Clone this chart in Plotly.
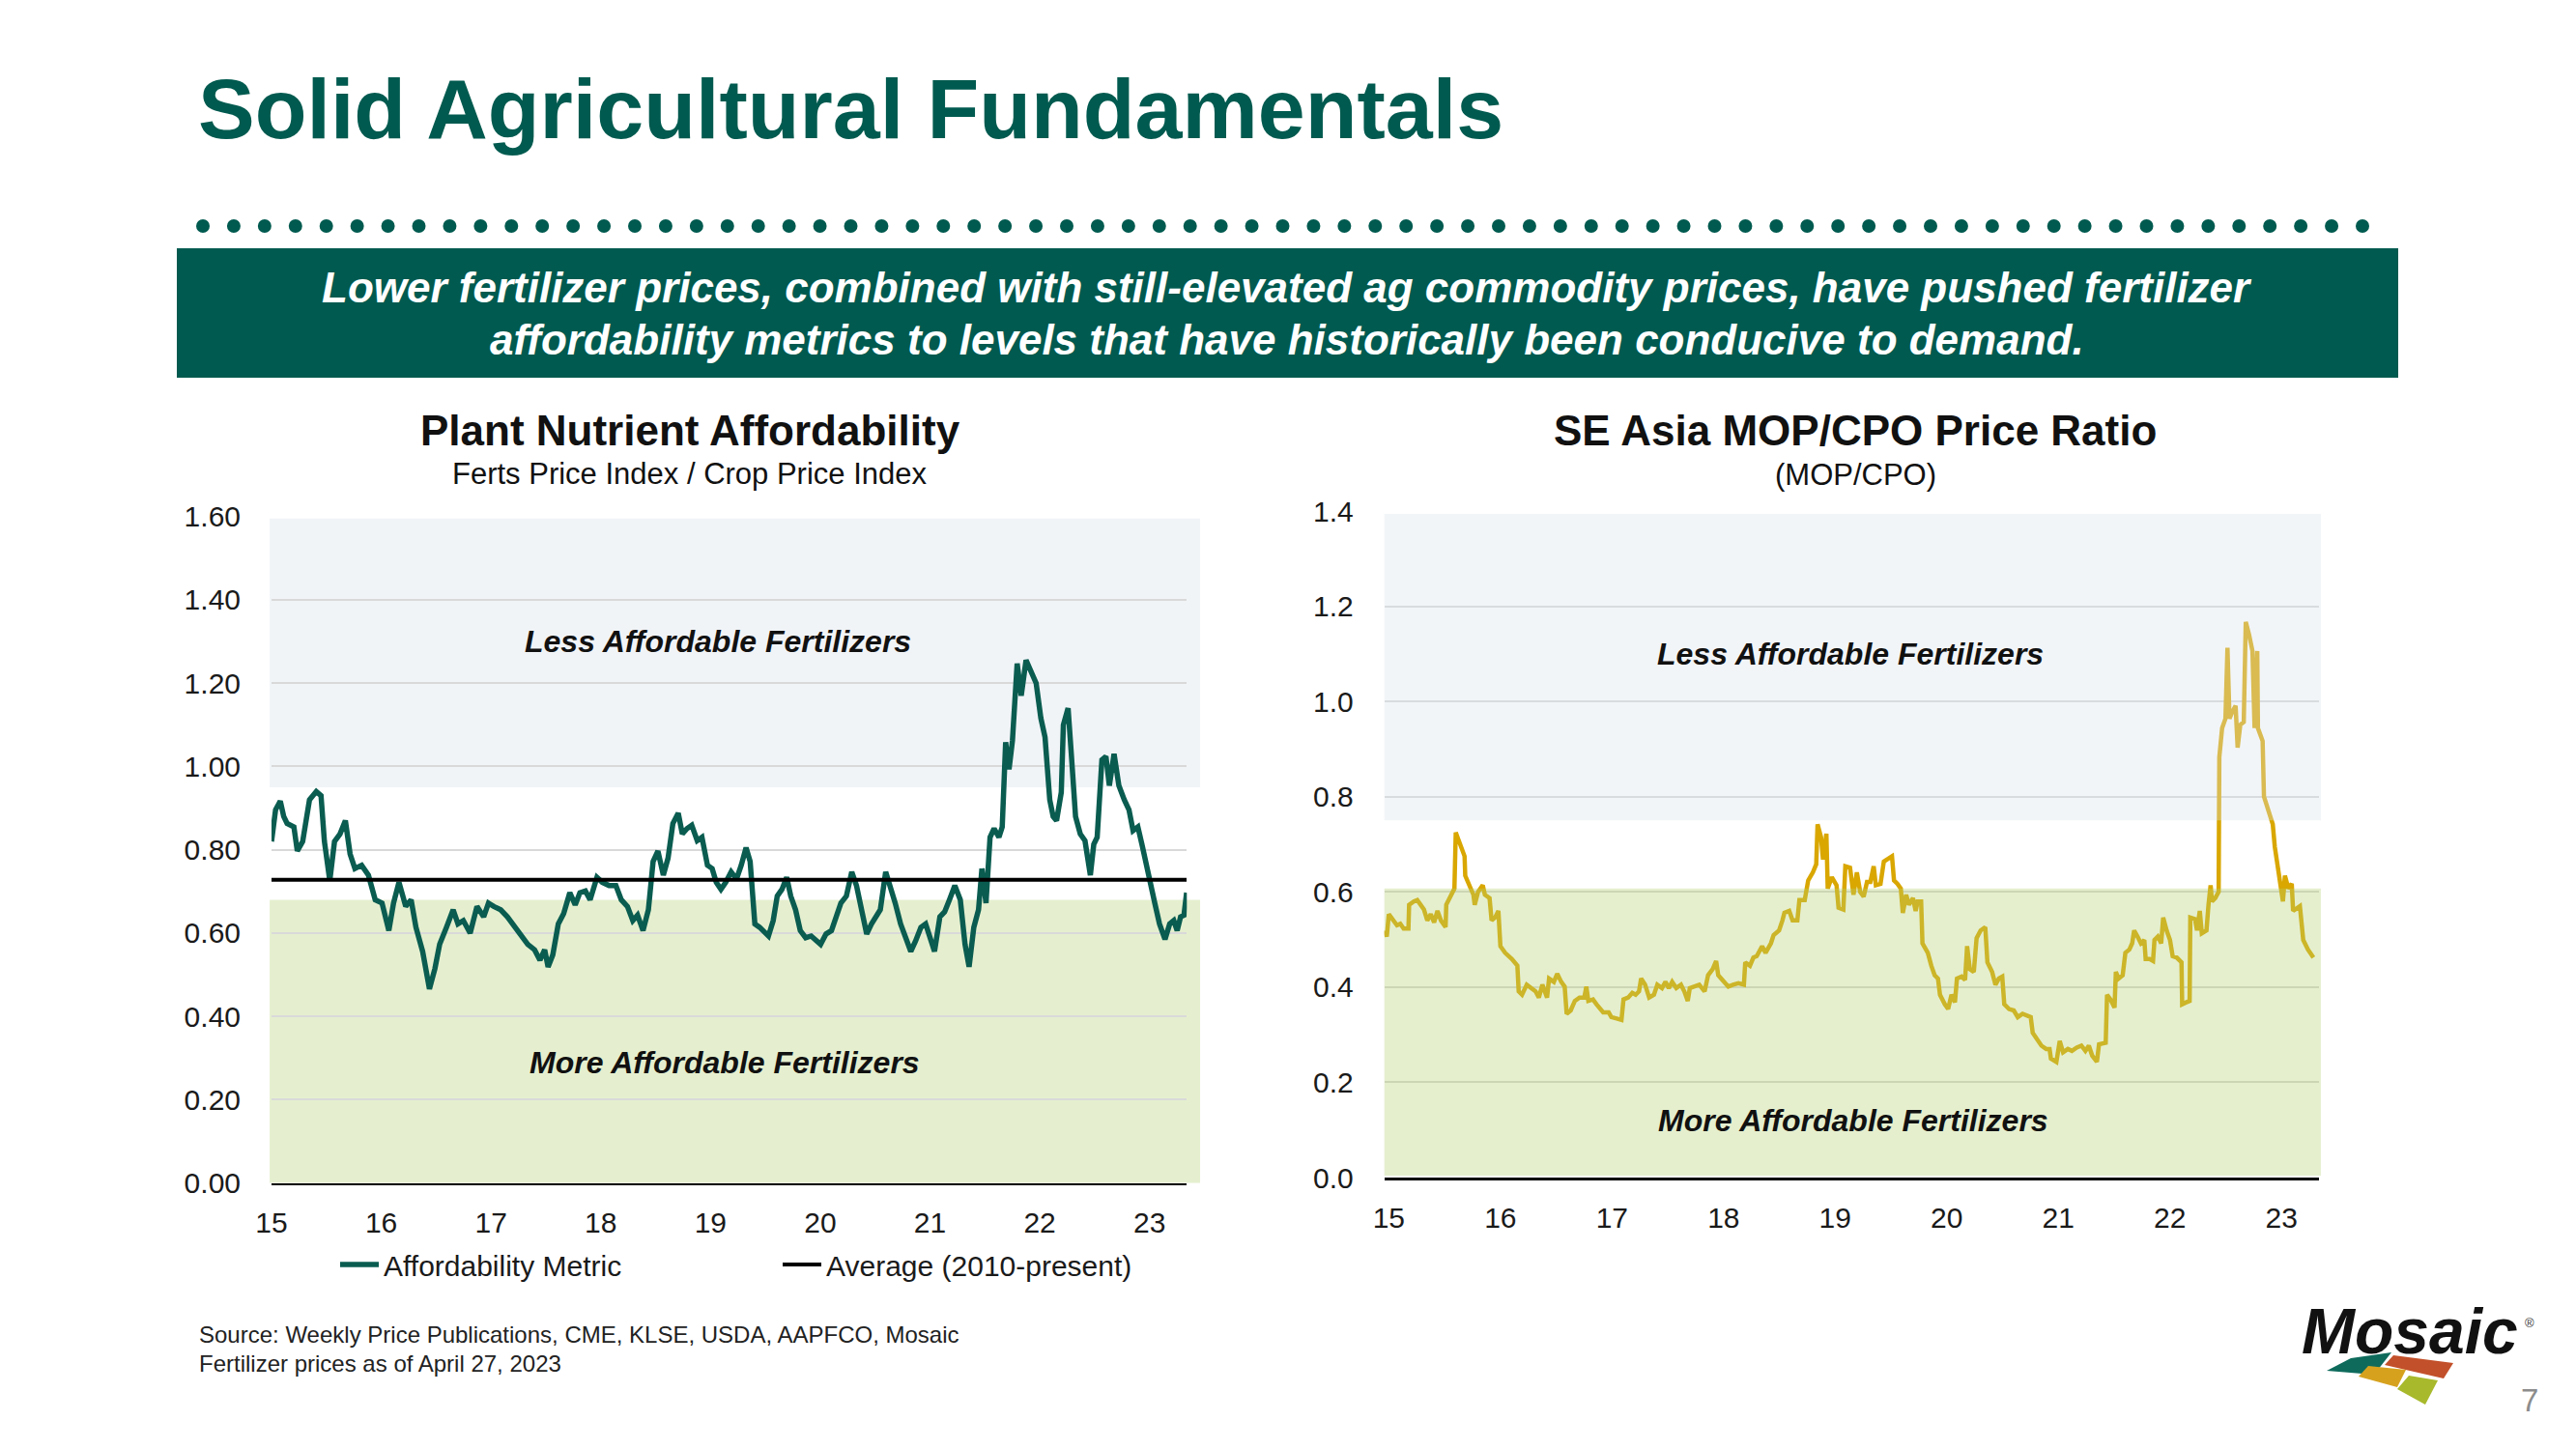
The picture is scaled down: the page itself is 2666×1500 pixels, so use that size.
import plotly.graph_objects as go

W, H = 2666, 1500
OFFSET = 8  # page body margin compensation
FONT = "Liberation Sans, Arial, sans-serif"
DARK_GREEN = "#005A4F"

# ---------------- data ----------------
# Plant Nutrient Affordability (Ferts Price Index / Crop Price Index), decimal 2-digit years
left_years = [
    15.000, 15.037, 15.080, 15.111, 15.142, 15.204, 15.235, 15.284, 15.346, 15.408,
    15.451, 15.482, 15.531, 15.574, 15.624, 15.673, 15.716, 15.760, 15.821, 15.883,
    15.945, 16.007, 16.069, 16.112, 16.161, 16.223, 16.272, 16.316, 16.377, 16.439,
    16.489, 16.532, 16.594, 16.655, 16.699, 16.748, 16.810, 16.872, 16.933, 16.977,
    17.026, 17.088, 17.149, 17.211, 17.273, 17.335, 17.397, 17.446, 17.489, 17.520,
    17.563, 17.613, 17.662, 17.718, 17.767, 17.810, 17.860, 17.903, 17.965, 18.014,
    18.076, 18.138, 18.187, 18.243, 18.292, 18.335, 18.385, 18.434, 18.477, 18.521,
    18.570, 18.613, 18.657, 18.706, 18.743, 18.786, 18.829, 18.879, 18.922, 18.972,
    19.015, 19.052, 19.095, 19.139, 19.188, 19.237, 19.280, 19.324, 19.361, 19.404,
    19.447, 19.484, 19.528, 19.571, 19.608, 19.651, 19.694, 19.731, 19.775, 19.818,
    19.867, 19.917, 19.960, 20.003, 20.053, 20.102, 20.145, 20.188, 20.238, 20.287,
    20.330, 20.374, 20.423, 20.466, 20.510, 20.547, 20.596, 20.639, 20.683, 20.732,
    20.781, 20.825, 20.868, 20.917, 20.960, 21.004, 21.041, 21.090, 21.133, 21.177,
    21.226, 21.276, 21.319, 21.356, 21.399, 21.442, 21.473, 21.510, 21.547, 21.584,
    21.628, 21.658, 21.689, 21.720, 21.751, 21.794, 21.831, 21.875, 21.918, 21.967,
    22.010, 22.048, 22.091, 22.122, 22.153, 22.196, 22.215, 22.258, 22.289, 22.326,
    22.369, 22.412, 22.461, 22.492, 22.523, 22.566, 22.603, 22.634, 22.677, 22.721,
    22.770, 22.813, 22.850, 22.894, 22.931, 22.968, 23.005, 23.048, 23.091, 23.141,
    23.184, 23.221, 23.252, 23.283, 23.314, 23.338,
]
left_values = [
    0.82, 0.896, 0.917, 0.88, 0.863, 0.855, 0.797, 0.82, 0.92, 0.94,
    0.93, 0.82, 0.726, 0.82, 0.838, 0.87, 0.79, 0.755, 0.763, 0.739,
    0.68, 0.672, 0.606, 0.672, 0.722, 0.664, 0.68, 0.614, 0.556, 0.466,
    0.515, 0.573, 0.614, 0.656, 0.622, 0.63, 0.60, 0.664, 0.639, 0.672,
    0.664, 0.656, 0.639, 0.618, 0.598, 0.573, 0.56, 0.535, 0.56, 0.519,
    0.548, 0.622, 0.647, 0.697, 0.668, 0.697, 0.701, 0.68, 0.734, 0.722,
    0.714, 0.714, 0.68, 0.664, 0.63, 0.643, 0.606, 0.656, 0.772, 0.797,
    0.739, 0.78, 0.863, 0.888, 0.838, 0.851, 0.859, 0.822, 0.83, 0.763,
    0.755, 0.722, 0.705, 0.722, 0.747, 0.73, 0.763, 0.805, 0.772, 0.622,
    0.614, 0.606, 0.593, 0.63, 0.689, 0.705, 0.734, 0.689, 0.656, 0.606,
    0.589, 0.593, 0.581, 0.573, 0.598, 0.606, 0.639, 0.672, 0.689, 0.747,
    0.714, 0.656, 0.598, 0.622, 0.639, 0.656, 0.747, 0.714, 0.672, 0.622,
    0.589, 0.556, 0.581, 0.614, 0.622, 0.589, 0.556, 0.639, 0.651, 0.68,
    0.714, 0.68, 0.573, 0.519, 0.614, 0.656, 0.755, 0.672, 0.83, 0.851,
    0.83, 0.855, 1.058, 0.993, 1.062, 1.247, 1.17, 1.255, 1.232, 1.20,
    1.116, 1.07, 0.92, 0.88, 0.87, 0.938, 1.10, 1.14, 1.024, 0.88,
    0.838, 0.822, 0.739, 0.813, 0.83, 1.016, 1.024, 0.954, 1.03, 0.954,
    0.92, 0.896, 0.846, 0.855, 0.813, 0.772, 0.722, 0.672, 0.622, 0.585,
    0.622, 0.63, 0.606, 0.639, 0.643, 0.697,
]
avg_2010_present = 0.728

# SE Asia MOP/CPO price ratio
right_years = [
    14.964, 14.982, 15.000, 15.042, 15.073, 15.103, 15.133, 15.176, 15.182, 15.224,
    15.255, 15.285, 15.315, 15.345, 15.376, 15.406, 15.436, 15.467, 15.509, 15.515,
    15.558, 15.588, 15.600, 15.636, 15.679, 15.685, 15.721, 15.758, 15.770, 15.800,
    15.842, 15.861, 15.903, 15.921, 15.952, 15.982, 16.000, 16.042, 16.103, 16.133,
    16.152, 16.164, 16.194, 16.236, 16.273, 16.315, 16.345, 16.376, 16.418, 16.436,
    16.479, 16.509, 16.545, 16.576, 16.594, 16.630, 16.667, 16.709, 16.752, 16.770,
    16.788, 16.830, 16.861, 16.891, 16.921, 16.970, 16.994, 17.042, 17.085, 17.103,
    17.145, 17.182, 17.212, 17.242, 17.261, 17.297, 17.333, 17.376, 17.406, 17.448,
    17.479, 17.509, 17.539, 17.576, 17.618, 17.648, 17.679, 17.697, 17.739, 17.782,
    17.830, 17.861, 17.903, 17.933, 17.952, 18.000, 18.042, 18.085, 18.133, 18.182,
    18.194, 18.236, 18.267, 18.297, 18.315, 18.345, 18.376, 18.424, 18.448, 18.497,
    18.527, 18.545, 18.588, 18.618, 18.661, 18.679, 18.727, 18.758, 18.800, 18.830,
    18.842, 18.873, 18.891, 18.921, 18.933, 18.970, 19.012, 19.030, 19.073, 19.091,
    19.133, 19.164, 19.194, 19.224, 19.255, 19.285, 19.315, 19.345, 19.364, 19.406,
    19.436, 19.467, 19.509, 19.527, 19.558, 19.588, 19.606, 19.636, 19.661, 19.697,
    19.721, 19.739, 19.770, 19.782, 19.830, 19.861, 19.891, 19.921, 19.939, 19.982,
    20.012, 20.042, 20.073, 20.091, 20.133, 20.164, 20.182, 20.206, 20.242, 20.267,
    20.303, 20.345, 20.364, 20.406, 20.436, 20.467, 20.497, 20.515, 20.558, 20.600,
    20.636, 20.679, 20.709, 20.752, 20.770, 20.812, 20.848, 20.891, 20.921, 20.933,
    20.982, 21.012, 21.042, 21.085, 21.121, 21.164, 21.206, 21.242, 21.273, 21.303,
    21.345, 21.364, 21.406, 21.424, 21.436, 21.467, 21.503, 21.515, 21.539, 21.576,
    21.600, 21.636, 21.661, 21.679, 21.709, 21.739, 21.770, 21.782, 21.818, 21.848,
    21.861, 21.891, 21.921, 21.939, 21.970, 22.000, 22.024, 22.061, 22.103, 22.109,
    22.145, 22.176, 22.182, 22.224, 22.242, 22.267, 22.285, 22.327, 22.345, 22.364,
    22.376, 22.406, 22.436, 22.442, 22.467, 22.497, 22.515, 22.533, 22.558, 22.588,
    22.606, 22.630, 22.661, 22.679, 22.709, 22.739, 22.758, 22.782, 22.788, 22.830,
    22.842, 22.921, 22.939, 22.982, 23.012, 23.030, 23.061, 23.091, 23.103, 23.145,
    23.164, 23.194, 23.236, 23.285,
]
right_values = [
    0.519, 0.506, 0.553, 0.54, 0.53, 0.533, 0.523, 0.523, 0.573, 0.58,
    0.583, 0.573, 0.563, 0.54, 0.553, 0.536, 0.56, 0.54, 0.526, 0.573,
    0.594, 0.607, 0.725, 0.70, 0.675, 0.634, 0.614, 0.594, 0.573, 0.60,
    0.614, 0.594, 0.587, 0.54, 0.546, 0.56, 0.486, 0.472, 0.459, 0.452,
    0.445, 0.391, 0.384, 0.405, 0.398, 0.391, 0.378, 0.405, 0.378, 0.418,
    0.411, 0.428, 0.411, 0.401, 0.344, 0.351, 0.371, 0.378, 0.378, 0.401,
    0.371, 0.374, 0.364, 0.357, 0.347, 0.347, 0.337, 0.334, 0.331, 0.374,
    0.378, 0.388, 0.384, 0.391, 0.418, 0.405, 0.378, 0.384, 0.405, 0.398,
    0.411, 0.398, 0.411, 0.398, 0.405, 0.391, 0.371, 0.398, 0.401, 0.405,
    0.391, 0.425, 0.438, 0.455, 0.425, 0.411, 0.401, 0.405, 0.408, 0.405,
    0.452, 0.445, 0.462, 0.465, 0.472, 0.486, 0.472, 0.492, 0.509, 0.519,
    0.54, 0.556, 0.56, 0.54, 0.54, 0.583, 0.583, 0.624, 0.641, 0.658,
    0.742, 0.715, 0.668, 0.722, 0.607, 0.631, 0.614, 0.567, 0.563, 0.654,
    0.651, 0.594, 0.641, 0.60, 0.590, 0.621, 0.621, 0.654, 0.614, 0.617,
    0.664, 0.668, 0.675, 0.624, 0.617, 0.607, 0.556, 0.594, 0.573, 0.587,
    0.56, 0.58, 0.58, 0.492, 0.472, 0.445, 0.425, 0.418, 0.384, 0.364,
    0.354, 0.384, 0.368, 0.418, 0.422, 0.415, 0.486, 0.438, 0.432, 0.503,
    0.519, 0.526, 0.452, 0.432, 0.405, 0.418, 0.422, 0.364, 0.354, 0.351,
    0.337, 0.344, 0.341, 0.337, 0.304, 0.29, 0.277, 0.27, 0.27, 0.25,
    0.243, 0.287, 0.263, 0.27, 0.266, 0.273, 0.277, 0.266, 0.277, 0.256,
    0.243, 0.280, 0.283, 0.283, 0.384, 0.374, 0.357, 0.432, 0.418, 0.425,
    0.472, 0.479, 0.492, 0.519, 0.506, 0.492, 0.499, 0.459, 0.459, 0.455,
    0.499, 0.506, 0.492, 0.546, 0.519, 0.499, 0.465, 0.462, 0.452, 0.364,
    0.368, 0.371, 0.546, 0.543, 0.519, 0.560, 0.513, 0.519, 0.573, 0.614,
    0.58, 0.587, 0.60, 0.883, 0.944, 0.964, 1.113, 0.964, 0.978, 0.991,
    0.903, 0.951, 0.957, 1.167, 1.14, 1.106, 0.944, 1.106, 0.944, 0.917,
    0.80, 0.742, 0.695, 0.634, 0.58, 0.634, 0.607, 0.617, 0.56, 0.567,
    0.57, 0.499, 0.479, 0.462,
]

year_ticks = [15, 16, 17, 18, 19, 20, 21, 22, 23]
year_labels = ["15", "16", "17", "18", "19", "20", "21", "22", "23"]
left_yticks = [0, 0.2, 0.4, 0.6, 0.8, 1.0, 1.2, 1.4, 1.6]
right_yticks = [0, 0.2, 0.4, 0.6, 0.8, 1.0, 1.2, 1.4]

# zone thresholds
left_less_from, left_more_to = 0.95, 0.68
right_less_from, right_more_to = 0.75, 0.607


def px(x):
    return (x - OFFSET) / W


def py(y):
    return 1 - (y - OFFSET) / H


# ---------------- figure ----------------
fig = go.Figure()
fig.add_trace(go.Scatter(
    x=left_years, y=left_values, mode="lines", name="Affordability Metric",
    line=dict(color="#0A5C50", width=5.5), xaxis="x", yaxis="y"))
fig.add_trace(go.Scatter(
    x=[left_years[0], left_years[-1]], y=[avg_2010_present, avg_2010_present],
    mode="lines", name="Average (2010-present)",
    line=dict(color="black", width=4), xaxis="x", yaxis="y"))
fig.add_trace(go.Scatter(
    x=right_years, y=right_values, mode="lines", showlegend=False,
    line=dict(color="#D9A700", width=4.5), xaxis="x2", yaxis="y2"))

tickfont = dict(family=FONT, size=30, color="#1A1A1A")
common = dict(zeroline=False, ticks="outside", tickcolor="rgba(0,0,0,0)",
              tickfont=tickfont, fixedrange=True, automargin=False)

fig.update_layout(
    width=W, height=H,
    margin=dict(l=0, r=0, t=0, b=0, pad=0, autoexpand=False),
    paper_bgcolor="white", plot_bgcolor="rgba(0,0,0,0)",
    xaxis=dict(domain=[px(281), px(1228.3)], range=[15, 23.34],
               tickvals=year_ticks, ticktext=year_labels, showgrid=False,
               showline=True, linecolor="black", linewidth=2, ticklen=13,
               anchor="y", **common),
    yaxis=dict(domain=[py(1224.7), py(534.7)], range=[0, 1.6],
               tickvals=left_yticks, tickformat=".2f", showgrid=True,
               gridcolor="#D9D9D9", gridwidth=2, ticklen=25, anchor="x", **common),
    xaxis2=dict(domain=[px(1432.7), px(2400)], range=[14.96, 23.335],
                tickvals=year_ticks, ticktext=year_labels, showgrid=False,
                showline=True, linecolor="black", linewidth=2.5, ticklen=13,
                anchor="y2", **common),
    yaxis2=dict(domain=[py(1219), py(529)], range=[0, 1.4],
                tickvals=right_yticks, tickformat=".1f", showgrid=True,
                gridcolor="#D9D9D9", gridwidth=2, ticklen=25, anchor="x2", **common),
    showlegend=True,
    legend=dict(orientation="h", x=px(347), y=py(1309), xanchor="left",
                yanchor="middle", entrywidth=403, entrywidthmode="pixels",
                font=dict(family=FONT, size=30, color="#1A1A1A"),
                bgcolor="rgba(0,0,0,0)", traceorder="normal", itemwidth=40),
)

shapes = []
# zone shading, left chart (behind)
shapes.append(dict(type="rect", xref="x domain", yref="y", x0=-0.002, x1=1.0145,
                   y0=left_less_from, y1=1.595, fillcolor="#F1F4F7",
                   line=dict(width=0), layer="below"))
shapes.append(dict(type="rect", xref="x domain", yref="y", x0=-0.002, x1=1.0145,
                   y0=0, y1=left_more_to, fillcolor="#E5EFCF",
                   line=dict(width=0), layer="below"))
# zone shading, right chart (translucent overlay)
shapes.append(dict(type="rect", xref="x2 domain", yref="y2", x0=0, x1=1.002,
                   y0=right_less_from, y1=1.394, fillcolor="rgb(218,226,235)",
                   opacity=0.35, line=dict(width=0), layer="above"))
shapes.append(dict(type="rect", xref="x2 domain", yref="y2", x0=0, x1=1.002,
                   y0=0.004, y1=right_more_to, fillcolor="rgb(181,209,115)",
                   opacity=0.35, line=dict(width=0), layer="above"))

# dotted divider
n_dots = 71
x_first, x_last, y_dot, r = 210, 2445, 234, 7
for i in range(n_dots):
    cx = x_first + (x_last - x_first) * i / (n_dots - 1)
    shapes.append(dict(type="circle", xref="paper", yref="paper",
                       x0=px(cx - r), x1=px(cx + r), y0=py(y_dot + r), y1=py(y_dot - r),
                       fillcolor=DARK_GREEN, line=dict(width=0)))

# banner
shapes.append(dict(type="rect", xref="paper", yref="paper",
                   x0=px(183), x1=px(2482), y0=py(391), y1=py(257),
                   fillcolor=DARK_GREEN, line=dict(width=0)))


# logo tiles
def poly(points, color):
    d = "M " + " L ".join(f"{px(a):.5f},{py(b):.5f}" for a, b in points) + " Z"
    return dict(type="path", xref="paper", yref="paper", path=d,
                fillcolor=color, line=dict(width=0))


shapes.append(poly([(2408, 1419), (2433, 1406), (2475, 1400), (2457, 1423)], "#0E6B5C"))
shapes.append(poly([(2468, 1413), (2477, 1403), (2539, 1411), (2529, 1427)], "#C2502A"))
shapes.append(poly([(2441, 1425), (2451, 1414), (2490, 1418), (2481, 1436)], "#D6A21E"))
shapes.append(poly([(2481, 1438), (2493, 1424), (2523, 1429), (2510, 1454)], "#A8B92C"))

fig.update_layout(shapes=shapes)


def ann(text, x, y, size, color="#111111", bold=False, italic=False,
        xanchor="center", xref="paper", yref="paper"):
    return dict(text=text, x=x, y=y, xref=xref, yref=yref, showarrow=False,
                xanchor=xanchor, yanchor="middle",
                font=dict(family=FONT, size=size, color=color,
                          weight="bold" if bold else "normal",
                          style="italic" if italic else "normal"))


annotations = [
    ann("Solid Agricultural Fundamentals", px(203), py(112), 88,
        color=DARK_GREEN, bold=True, xanchor="left"),
    ann("Lower fertilizer prices, combined with still-elevated ag commodity prices, have pushed fertilizer",
        px(1332), py(297), 44, color="white", bold=True, italic=True),
    ann("affordability metrics to levels that have historically been conducive to demand.",
        px(1332), py(351), 44, color="white", bold=True, italic=True),
    ann("Plant Nutrient Affordability", px(714), py(445), 44, bold=True),
    ann("Ferts Price Index / Crop Price Index", px(714), py(490), 31),
    ann("SE Asia MOP/CPO Price Ratio", px(1920), py(445), 44, bold=True),
    ann("(MOP/CPO)", px(1920), py(491), 31),
    ann("Less Affordable Fertilizers", 19.07, 1.30, 32, bold=True, italic=True,
        xref="x", yref="y"),
    ann("More Affordable Fertilizers", 19.13, 0.29, 32, bold=True, italic=True,
        xref="x", yref="y"),
    ann("Less Affordable Fertilizers", 19.14, 1.10, 32, bold=True, italic=True,
        xref="x2", yref="y2"),
    ann("More Affordable Fertilizers", 19.16, 0.12, 32, bold=True, italic=True,
        xref="x2", yref="y2"),
    ann("Source: Weekly Price Publications, CME, KLSE, USDA, AAPFCO, Mosaic",
        px(204), py(1381), 24, color="#222222", xanchor="left"),
    ann("Fertilizer prices as of April 27, 2023",
        px(204), py(1411), 24, color="#222222", xanchor="left"),
    ann("Mosaic", px(2494), py(1378), 66, color="#111111", bold=True, italic=True),
    ann("®", px(2618), py(1369), 13, color="#333333"),
    ann("7", px(2618), py(1449), 33, color="#8C8C8C"),
]
fig.update_layout(annotations=annotations)

fig.write_html("out.html")
